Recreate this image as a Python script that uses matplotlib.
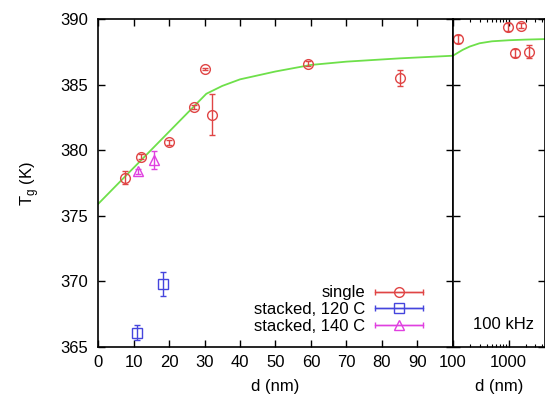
import numpy as np
import matplotlib
matplotlib.use("Agg")
import matplotlib.pyplot as plt
from matplotlib.legend_handler import HandlerErrorbar
from matplotlib.ticker import LogLocator, NullFormatter, FixedLocator, FixedFormatter

plt.rcParams["font.family"] = ["Liberation Sans", "DejaVu Sans"]
plt.rcParams["font.size"] = 12

# single films
single_d = [7.6, 12.1, 20.0, 27.0, 30.1, 32.1, 59.1, 85.0, 124, 990, 1670, 1306, 2260]
single_tg = [377.9, 379.5, 380.6, 383.3, 386.2, 382.7, 386.6, 385.5, 388.5, 389.4, 389.5, 387.4, 387.5]
single_err = [0.5, 0.2, 0.2, 0.15, 0.1, 1.55, 0.2, 0.63, 0.3, 0.3, 0.2, 0.3, 0.5]

# stacked, 120 C
st120_d = [10.9, 18.4]
st120_tg = [366.1, 369.8]
st120_err = [0.57, 0.89]

# stacked, 140 C
st140_d = [11.3, 15.8]
st140_tg = [378.4, 379.25]
st140_err = [0.2, 0.67]

# fit curve
fit_d = [0, 30.5, 35, 40, 50, 60, 70, 85, 100, 125, 150, 200, 300, 500, 1000, 2000, 4500]
fit_tg = [375.9, 384.3, 384.9, 385.4, 386.0, 386.5, 386.75, 387.0, 387.2,
          387.45, 387.65, 387.9, 388.15, 388.3, 388.38, 388.43, 388.47]

red = "#e04545"
blue = "#4545dd"
magenta = "#e040e0"
green = "#6ee04a"

fig = plt.figure(figsize=(5.45, 4.0), dpi=100)
ax1 = fig.add_axes([0.180, 0.1325, 0.651, 0.82])
ax2 = fig.add_axes([0.831, 0.1325, 0.169, 0.82])

single_d = np.array(single_d)
single_tg = np.array(single_tg)
single_err = np.array(single_err)
fit_d = np.array(fit_d)
fit_tg = np.array(fit_tg)

ebkw = dict(fmt="none", elinewidth=1, capsize=2.5, capthick=1)
mkw = dict(linestyle="none", markersize=7, markerfacecolor="none", markeredgewidth=1)

for ax, mask_fn in [(ax1, lambda d: d <= 100), (ax2, lambda d: d >= 100)]:
    m = mask_fn(fit_d)
    ax.plot(fit_d[m], fit_tg[m], color=green, lw=1.3, zorder=1)
    m = mask_fn(single_d)
    ax.errorbar(single_d[m], single_tg[m], yerr=single_err[m], ecolor=red, **ebkw)
    ax.plot(single_d[m], single_tg[m], marker="o", color=red, **mkw)

ax1.errorbar(st120_d, st120_tg, yerr=st120_err, ecolor=blue, **ebkw)
ax1.plot(st120_d, st120_tg, marker="s", color=blue, **mkw)
ax1.errorbar(st140_d, st140_tg, yerr=st140_err, ecolor=magenta, **ebkw)
ax1.plot(st140_d, st140_tg, marker="^", color=magenta, **mkw)

ax1.set_xlim(0, 100)
ax1.set_ylim(365, 390)
ax1.set_xticks(np.arange(0, 101, 10))
ax1.set_yticks(np.arange(365, 391, 5))
ax1.set_xlabel("d (nm)", labelpad=6)
ax1.set_ylabel(r"T$_\mathregular{g}$ (K)", labelpad=14)

ax2.set_xscale("log")
ax2.set_xlim(100, 4460)
ax2.set_ylim(365, 390)
ax2.set_yticks(np.arange(365, 391, 5))
ax2.set_yticklabels([])
ax2.xaxis.set_major_locator(FixedLocator([100, 1000]))
ax2.xaxis.set_major_formatter(FixedFormatter(["", "1000"]))
ax2.xaxis.set_minor_locator(LogLocator(base=10, subs=np.arange(2, 10)))
ax2.xaxis.set_minor_formatter(NullFormatter())
ax2.set_xlabel("d (nm)", labelpad=6)
ax2.text(0.55, 0.07, "100 kHz", transform=ax2.transAxes, ha="center", va="center")

for ax in (ax1, ax2):
    ax.tick_params(which="major", direction="in", length=5, width=1,
                   top=True, right=True, pad=6, labelsize=12)
    ax.tick_params(which="minor", direction="in", length=2.5, width=0.8,
                   top=True, right=True)
    for s in ax.spines.values():
        s.set_linewidth(1.2)
    ax.tick_params(axis="y", pad=7)

# legend proxies with horizontal error bars
h1 = ax1.errorbar([np.nan], [np.nan], xerr=[1], fmt="-o", color=red, mfc="none",
                  ms=7, lw=1, capsize=2.5)
h2 = ax1.errorbar([np.nan], [np.nan], xerr=[1], fmt="-s", color=blue, mfc="none",
                  ms=7, lw=1, capsize=2.5)
h3 = ax1.errorbar([np.nan], [np.nan], xerr=[1], fmt="-^", color=magenta, mfc="none",
                  ms=7, lw=1, capsize=2.5)
ax1.legend([h1, h2, h3], ["single", "stacked, 120 C", "stacked, 140 C"],
           loc="lower right", bbox_to_anchor=(0.95, 0.005), frameon=False,
           markerfirst=False, handlelength=2.9, handletextpad=0.6,
           labelspacing=0.1, borderaxespad=0.3,
           handler_map={type(h1): HandlerErrorbar(xerr_size=1.45)})

fig.savefig("out.png", dpi=100)
